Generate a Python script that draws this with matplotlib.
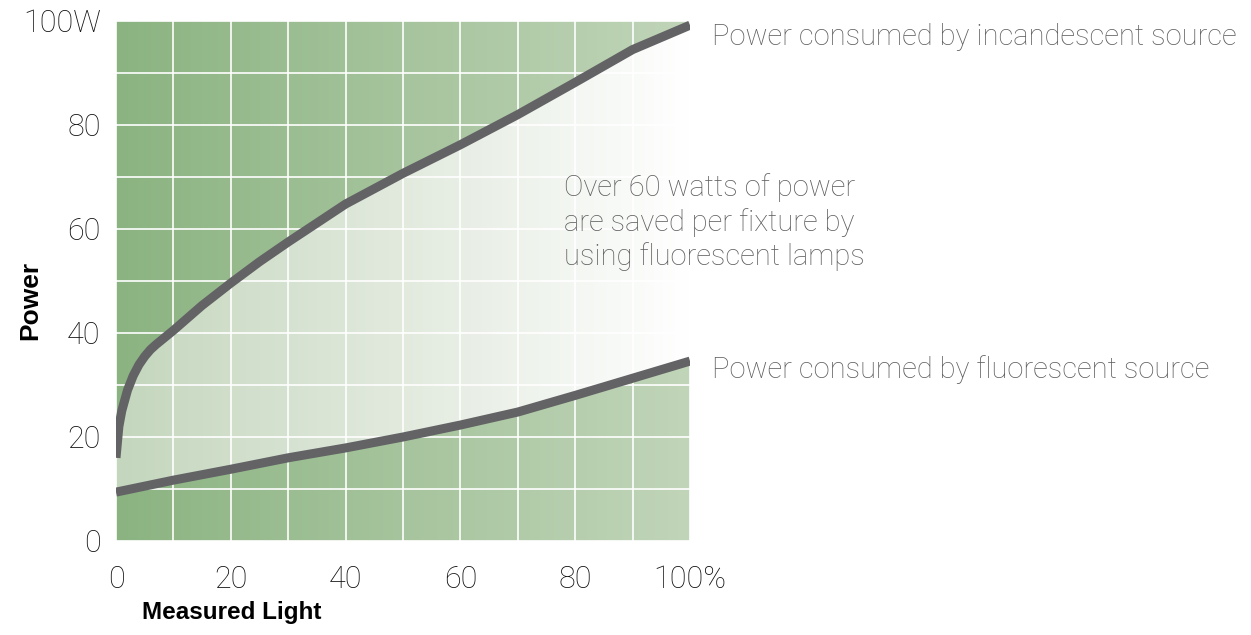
import numpy as np
import matplotlib
matplotlib.use('Agg')
import matplotlib.pyplot as plt
from matplotlib.colors import LinearSegmentedColormap
from matplotlib.patches import Polygon

# values
incand_x = [0, 0.5, 1, 2, 3, 4, 5, 6, 7, 8, 10, 15, 20, 25, 30, 40, 50, 60, 70, 80, 90, 100]
incand_y = [16, 22, 25, 29, 31.8, 33.9, 35.5, 36.8, 37.8, 38.7, 40.5, 45.3, 49.6, 53.7, 57.5, 64.8, 70.7, 76.2, 82, 88.2, 94.5, 99.2]
fluor_x = [0, 10, 20, 30, 40, 50, 60, 70, 80, 90, 100]
fluor_y = [9.4, 11.7, 13.8, 16, 17.9, 20, 22.3, 24.8, 28, 31.3, 34.6]

x_ticks = [0, 20, 40, 60, 80, 100]
x_labels = ['0', '20', '40', '60', '80', '100%']
y_ticks = [0, 20, 40, 60, 80, 100]
y_labels = ['0', '20', '40', '60', '80', '100W']

label_incand = 'Power consumed by incandescent source'
label_fluor = 'Power consumed by fluorescent source'
note = 'Over 60 watts of power\nare saved per fixture by\nusing fluorescent lamps'

plt.rcParams['font.family'] = ['Roboto', 'DejaVu Sans']

fig = plt.figure(figsize=(12.51, 6.35), dpi=100)
ax = fig.add_axes([116 / 1251, 94 / 635, 574 / 1251, 520 / 635])

grad = np.linspace(0, 1, 256).reshape(1, -1)
bg_cmap = LinearSegmentedColormap.from_list('bg', ['#8bb381', '#c1d5b9'])
band_cmap = LinearSegmentedColormap.from_list('band', ['#c4d6bd', '#e2eade', '#ffffff'])

ax.imshow(grad, extent=[0, 100, 0, 100], aspect='auto', cmap=bg_cmap, zorder=0)
band_img = ax.imshow(grad, extent=[0, 100, 0, 100], aspect='auto', cmap=band_cmap, zorder=1)
band = Polygon(np.column_stack([incand_x + fluor_x[::-1], incand_y + fluor_y[::-1]]),
               closed=True, transform=ax.transData)
band_img.set_clip_path(band)

ax.plot(incand_x, incand_y, color='#636366', lw=6.5, solid_capstyle='butt', solid_joinstyle='round', zorder=3)
ax.plot(fluor_x, fluor_y, color='#636366', lw=6.5, solid_capstyle='butt', solid_joinstyle='round', zorder=3)

ax.set_xlim(0, 100)
ax.set_ylim(0, 100)
ax.set_xticks(x_ticks)
ax.set_xticklabels(x_labels)
ax.set_yticks(y_ticks)
ax.set_yticklabels(y_labels)
ax.set_xticks(range(0, 101, 10), minor=True)
ax.set_yticks(range(0, 101, 10), minor=True)
ax.set_axisbelow(False)
ax.grid(which='both', color='white', lw=1.2)
ax.tick_params(which='both', length=0)
ax.tick_params(axis='x', pad=17, labelsize=22, labelcolor='#111111')
ax.tick_params(axis='y', pad=11, labelsize=22, labelcolor='#111111')
for lab in ax.get_xticklabels() + ax.get_yticklabels():
    lab.set_fontweight('light')
for s in ax.spines.values():
    s.set_visible(False)

txt = dict(fontsize=21, color='#5e5e5e', fontweight='light')
ax.text(103.8, 97, label_incand, va='center', ha='left', clip_on=False, **txt)
ax.text(103.8, 32.9, label_fluor, va='center', ha='left', clip_on=False, **txt)
ax.text(78, 61.3, note, va='center', ha='left', linespacing=1.25, **txt)

fig.text(232 / 1251, 1 - 612 / 635, 'Measured Light', ha='center', va='center',
         fontsize=17.5, fontweight='bold', family=['Liberation Sans', 'DejaVu Sans'])
fig.text(30 / 1251, 1 - 300 / 635, 'Power', ha='center', va='center', rotation=90,
         fontsize=19, fontweight='bold', family=['Liberation Sans', 'DejaVu Sans'])

fig.savefig('out.png', dpi=100)
